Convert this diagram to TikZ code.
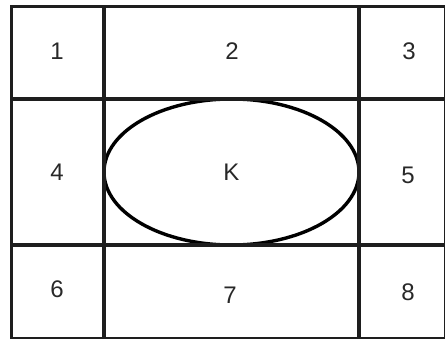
\documentclass[tikz,border=0pt]{standalone}
\usepackage{fontspec}
\setmainfont{Liberation Sans}
\usetikzlibrary{shapes.geometric}

\tikzset{
  cellline/.style={line width=3.4pt, draw={rgb,255:red,30;green,30;blue,30}},
  cellnum/.style={inner sep=0.75pt, font=\fontsize{24}{28}\selectfont, text={rgb,255:red,40;green,40;blue,40}},
}

\begin{document}
\begin{tikzpicture}[x=1pt,y=1pt,yscale=-1,xscale=1]
	\useasboundingbox (0,0) rectangle (445,338);
	
	%Shape: Ellipse [id:K]
	\node [cellnum, draw, ellipse, line width=3.4pt, minimum width=255pt, minimum height=146pt] (K) at (231.5,172) {K};
	
	%Straight Lines [outer frame]
	\draw [cellline] (11.5,6.5) -- (446,6.5) -- (446,338.5) -- (11.5,338.5) -- cycle ;
	%Straight Lines [columns]
	\draw [cellline] (104,6.5) -- (104,338.5) ;
	\draw [cellline] (359,6.5) -- (359,338.5) ;
	%Straight Lines [rows]
	\draw [cellline] (11.5,99) -- (446,99) ;
	\draw [cellline] (11.5,245) -- (446,245) ;
	
	% Text Node
	\node [cellnum] (c1) at (57,51) {1};
	% Text Node
	\node [cellnum] (c2) at (232,51) {2};
	% Text Node
	\node [cellnum] (c3) at (409,51) {3};
	% Text Node
	\node [cellnum] (c4) at (57,172) {4};
	% Text Node
	\node [cellnum] (c5) at (408,175) {5};
	% Text Node
	\node [cellnum] (c6) at (57,289) {6};
	% Text Node
	\node [cellnum] (c7) at (230,295) {7};
	% Text Node
	\node [cellnum] (c8) at (408,292) {8};
	
\end{tikzpicture}
\end{document}
